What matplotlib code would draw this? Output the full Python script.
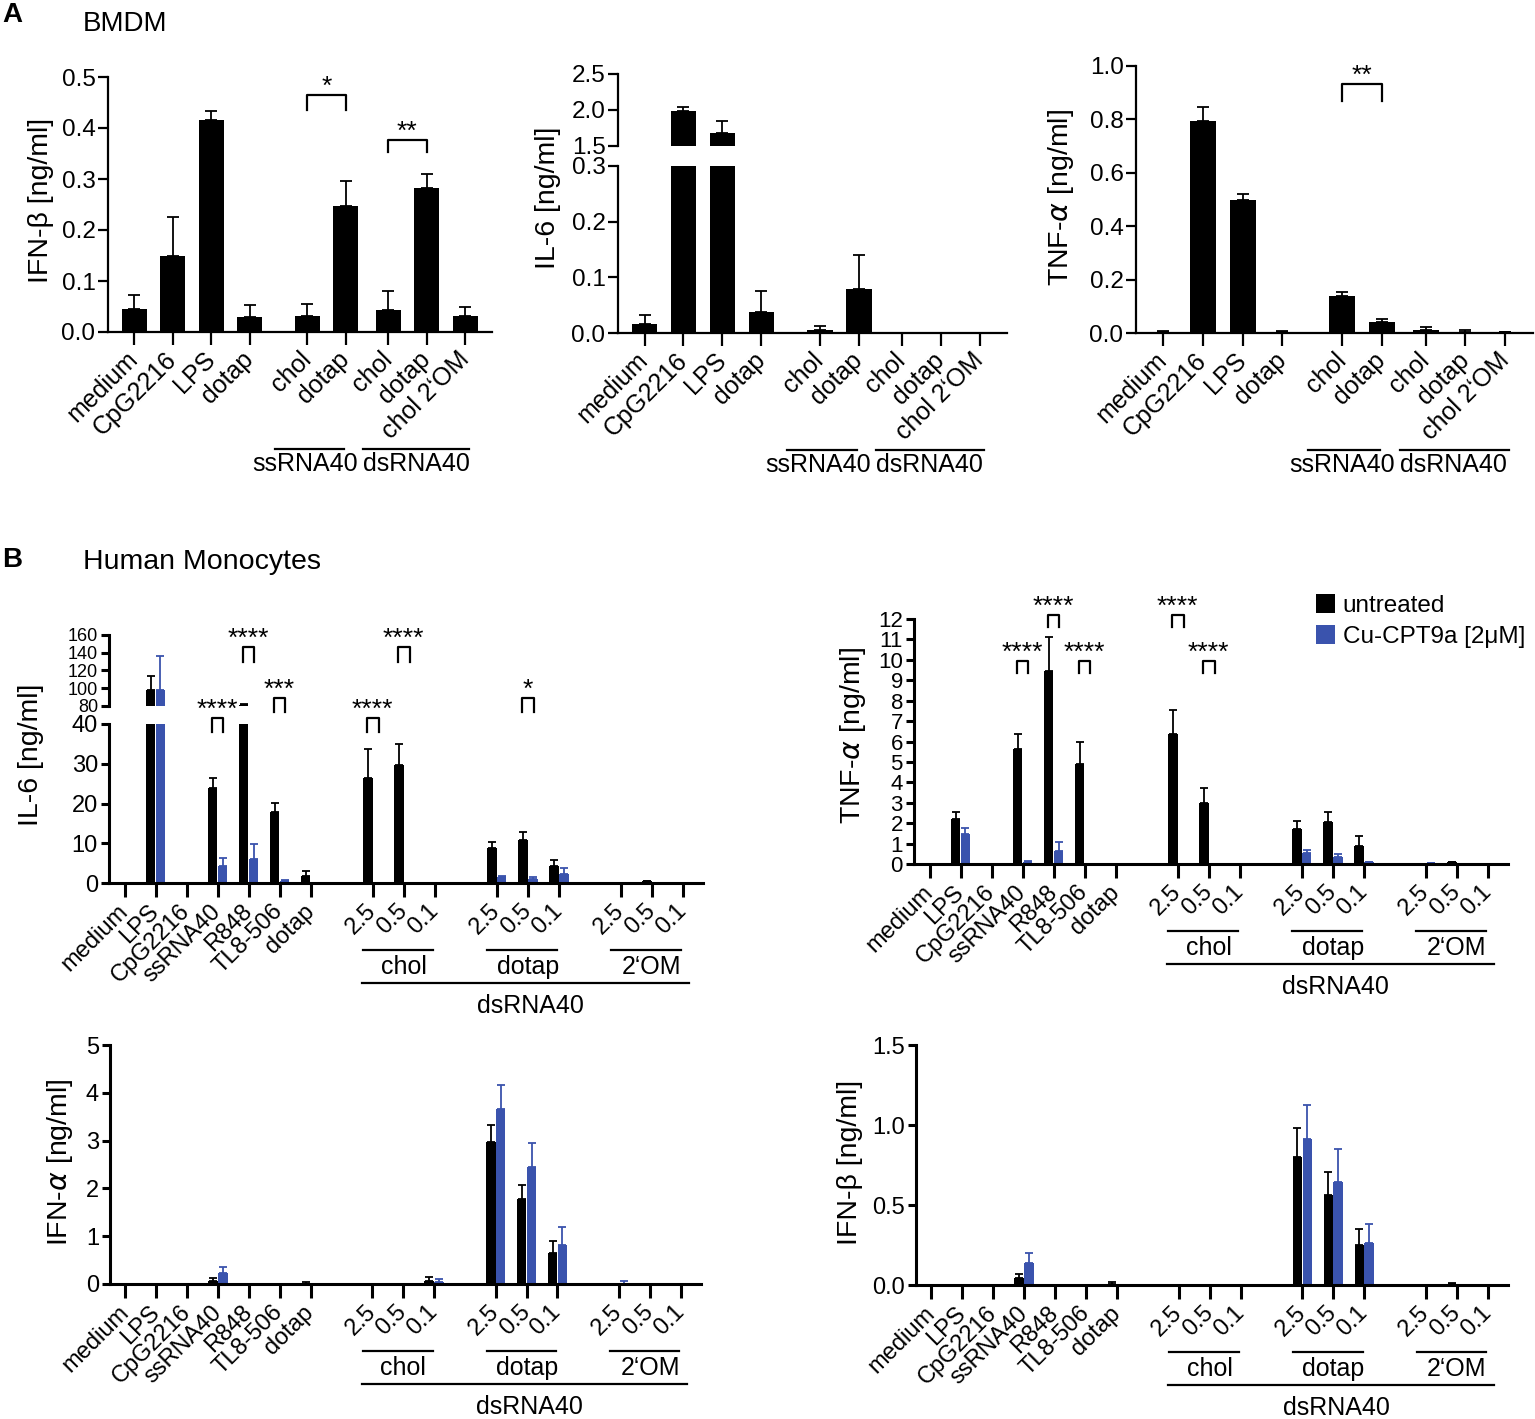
import numpy as np
import matplotlib
matplotlib.use("Agg")
import matplotlib.pyplot as plt
from matplotlib import transforms
from matplotlib.lines import Line2D

plt.rcParams["font.family"] = ["Liberation Sans", "DejaVu Sans"]

# ---------------- data ----------------
# panel A (BMDM)
a_labels = ["medium", "CpG2216", "LPS", "dotap", "chol", "dotap", "chol", "dotap", "chol 2\u2018OM"]

a_ifnb = [0.045, 0.150, 0.415, 0.030, 0.032, 0.248, 0.044, 0.283, 0.031]
a_ifnb_sd = [0.027, 0.076, 0.018, 0.022, 0.023, 0.048, 0.036, 0.026, 0.018]

a_il6 = [0.016, 1.98, 1.68, 0.038, 0.006, 0.079, 0.0, 0.0, 0.0]
a_il6_sd = [0.017, 0.06, 0.17, 0.038, 0.007, 0.061, 0.0, 0.0, 0.0]

a_tnf = [0.003, 0.795, 0.500, 0.002, 0.140, 0.040, 0.012, 0.005, 0.002]
a_tnf_sd = [0.005, 0.050, 0.020, 0.006, 0.015, 0.013, 0.010, 0.007, 0.002]

# panel B (human monocytes)
b_labels = ["medium", "LPS", "CpG2216", "ssRNA40", "R848", "TL8-506", "dotap",
            "2.5", "0.5", "0.1", "2.5", "0.5", "0.1", "2.5", "0.5", "0.1"]
b_groups = ["chol", "dotap", "2\u2018OM"]
series_names = ["untreated", "Cu-CPT9a [2\u03bcM]"]

il6_untr = [0, 97.5, 0.2, 23.9, 81.5, 17.8, 1.8, 26.4, 29.6, 0, 8.8, 10.8, 4.4, 0.1, 0.4, 0.1]
il6_untr_sd = [0, 16, 0, 2.5, 0.8, 2.4, 1.2, 7.3, 5.4, 0, 1.5, 2.0, 1.5, 0, 0.2, 0]
il6_cu = [0, 98.3, 0, 4.3, 6.1, 0.5, 0, 0.2, 0.2, 0.2, 1.5, 1.1, 2.3, 0.1, 0.1, 0.1]
il6_cu_sd = [0, 38, 0, 2.1, 3.8, 0.2, 0, 0, 0, 0, 0.3, 0.4, 1.5, 0, 0, 0]

tnf_untr = [0, 2.2, 0, 5.63, 9.45, 4.89, 0, 6.35, 3.01, 0, 1.69, 2.05, 0.9, 0, 0.08, 0]
tnf_untr_sd = [0, 0.37, 0, 0.75, 1.69, 1.09, 0, 1.21, 0.69, 0, 0.43, 0.51, 0.48, 0, 0.04, 0]
tnf_cu = [0, 1.47, 0, 0.1, 0.62, 0, 0, 0, 0, 0, 0.52, 0.36, 0.08, 0.03, 0, 0]
tnf_cu_sd = [0, 0.31, 0, 0.05, 0.44, 0, 0, 0, 0, 0, 0.16, 0.11, 0.04, 0.01, 0, 0]

ifna_untr = [0, 0, 0, 0.07, 0, 0, 0.01, 0, 0, 0.06, 2.98, 1.77, 0.64, 0, 0, 0]
ifna_untr_sd = [0, 0, 0, 0.05, 0, 0, 0.04, 0, 0, 0.08, 0.35, 0.30, 0.25, 0, 0, 0]
ifna_cu = [0, 0, 0, 0.24, 0, 0, 0, 0.01, 0, 0.05, 3.67, 2.45, 0.82, 0.01, 0.02, 0]
ifna_cu_sd = [0, 0, 0, 0.11, 0, 0, 0, 0, 0, 0.05, 0.49, 0.51, 0.37, 0.05, 0, 0]

ifnb_untr = [0, 0, 0, 0.042, 0, 0, 0.008, 0, 0, 0, 0.80, 0.565, 0.25, 0, 0.008, 0]
ifnb_untr_sd = [0, 0, 0, 0.025, 0, 0, 0.012, 0, 0, 0, 0.183, 0.143, 0.10, 0, 0.004, 0]
ifnb_cu = [0.002, 0.002, 0, 0.135, 0, 0.003, 0, 0, 0, 0.003, 0.91, 0.644, 0.26, 0.003, 0, 0.003]
ifnb_cu_sd = [0, 0, 0, 0.065, 0, 0, 0, 0, 0, 0, 0.217, 0.204, 0.12, 0, 0, 0]

# ---------------- layout ----------------
W, H = 1535, 1419
fig = plt.figure(figsize=(W / 100, H / 100), dpi=100)

BLUE = "#3a53ad"
A_TICK_FS = 17.5
B_TICK_FS = 16
B_XLAB_FS = 17
GROUP_FS = 18
LAB_FS = 20.5
STAR_FS = 19
a_pos = np.array([0, 1, 2, 3, 4.5, 5.5, 6.6, 7.6, 8.6])
b_pos = np.array([0, 1, 2, 3, 4, 5, 6, 8, 9, 10, 12, 13, 14, 16, 17, 18])


def add_ax(left, right, top, bottom):
    return fig.add_axes([left / W, 1 - bottom / H, (right - left) / W, (bottom - top) / H])


def style(ax, fs, xaxis=True, lw=1.6):
    for s in ["top", "right"]:
        ax.spines[s].set_visible(False)
    ax.spines["left"].set_linewidth(lw)
    ax.spines["bottom"].set_linewidth(lw)
    ax.tick_params(axis="both", labelsize=fs, width=lw, length=7, pad=2)
    if not xaxis:
        ax.spines["bottom"].set_visible(False)
        ax.tick_params(axis="x", bottom=False, labelbottom=False)


def add_err(ax, x, y, sd, color, capsize):
    x, y, sd = np.asarray(x, float), np.asarray(y, float), np.asarray(sd, float)
    m = sd > 0
    ax.errorbar(x[m], y[m], yerr=[np.zeros(m.sum()), sd[m]], fmt="none", ecolor=color,
                elinewidth=1.3, capsize=capsize, capthick=1.3, zorder=1)


def ylabel(text, x_px, y_px):
    fig.text(x_px / W, 1 - y_px / H, text, rotation=90, ha="right", va="center", fontsize=LAB_FS)


def below(ax, off_px):
    t = transforms.blended_transform_factory(ax.transData, ax.transAxes)
    return transforms.offset_copy(t, fig=fig, x=0, y=-off_px, units="dots")


def hline(ax, x0, x1, off_px):
    ax.add_line(Line2D([x0, x1], [0, 0], transform=below(ax, off_px), color="black",
                       lw=1.6, clip_on=False))


def bracket(ax, x0, x1, top, leg, label):
    ax.plot([x0, x0, x1, x1], [top - leg, top, top, top - leg], color="black", lw=1.6,
            clip_on=False)
    ax.annotate(label, xy=((x0 + x1) / 2, top), xytext=(0, 6), textcoords="offset points",
                ha="center", va="center", fontsize=STAR_FS, annotation_clip=False)


# ---------------- panel A ----------------
def draw_a(ax, vals, sds):
    ax.bar(a_pos, vals, width=0.65, color="black", zorder=2)
    add_err(ax, a_pos, vals, sds, "black", 4.3)
    ax.set_xlim(-0.68, 9.3)


def a_xaxis(ax):
    ax.set_xticks(a_pos)
    ax.set_xticklabels(a_labels, rotation=45, ha="right", va="center",
                       rotation_mode="anchor", fontsize=A_TICK_FS + 0.5)
    ax.tick_params(axis="x", length=9, pad=8)
    hline(ax, 3.65, 5.45, 117)
    hline(ax, 5.95, 8.7, 117)
    ax.text(5.82, 0, "ssRNA40", transform=below(ax, 132), ha="right", va="center", fontsize=GROUP_FS)
    ax.text(5.95, 0, "dsRNA40", transform=below(ax, 132), ha="left", va="center", fontsize=GROUP_FS)


fig.text(2 / W, 1 - 15 / H, "A", fontsize=20, fontweight="bold", va="center")
fig.text(83 / W, 1 - 24 / H, "BMDM", fontsize=20, va="center")

ax = add_ax(108, 492, 77, 332)
style(ax, A_TICK_FS)
draw_a(ax, a_ifnb, a_ifnb_sd)
ax.set_ylim(0, 0.5)
ax.set_yticks(np.arange(0, 0.51, 0.1))
ax.yaxis.set_major_formatter(matplotlib.ticker.FormatStrFormatter("%.1f"))
a_xaxis(ax)
bracket(ax, 4.5, 5.5, 0.465, 0.03, "*")
bracket(ax, 6.6, 7.6, 0.376, 0.024, "**")
ylabel("IFN-\u03b2 [ng/ml]", 54, 200)

ax_up = add_ax(618, 1007, 74, 146)
style(ax_up, A_TICK_FS, xaxis=False)
draw_a(ax_up, a_il6, a_il6_sd)
ax_up.set_ylim(1.5, 2.5)
ax_up.set_yticks([1.5, 2.0, 2.5])
ax_up.yaxis.set_major_formatter(matplotlib.ticker.FormatStrFormatter("%.1f"))
ax = add_ax(618, 1007, 166, 333)
style(ax, A_TICK_FS)
draw_a(ax, a_il6, a_il6_sd)
ax.set_ylim(0, 0.3)
ax.set_yticks([0, 0.1, 0.2, 0.3])
ax.yaxis.set_major_formatter(matplotlib.ticker.FormatStrFormatter("%.1f"))
a_xaxis(ax)
ylabel("IL-6 [ng/ml]", 561, 198)

ax = add_ax(1136, 1533, 66, 333)
style(ax, A_TICK_FS)
draw_a(ax, a_tnf, a_tnf_sd)
ax.set_ylim(0, 1.0)
ax.set_yticks(np.arange(0, 1.01, 0.2))
ax.yaxis.set_major_formatter(matplotlib.ticker.FormatStrFormatter("%.1f"))
a_xaxis(ax)
bracket(ax, 4.5, 5.5, 0.933, 0.065, "**")
ylabel("TNF-$\\alpha$ [ng/ml]", 1076, 197)


# ---------------- panel B ----------------
def draw_b(ax, untr, untr_sd, cu, cu_sd):
    b1 = ax.bar(b_pos - 0.16, untr, width=0.31, color="black", zorder=2)
    b2 = ax.bar(b_pos + 0.16, cu, width=0.31, color=BLUE, zorder=2)
    add_err(ax, b_pos - 0.16, untr, untr_sd, "black", 2.6)
    add_err(ax, b_pos + 0.16, cu, cu_sd, BLUE, 2.6)
    ax.set_xlim(-0.5, 18.65)
    return b1, b2


def b_xaxis(ax):
    ax.set_xticks(b_pos)
    ax.set_xticklabels(b_labels, rotation=45, ha="right", va="center",
                       rotation_mode="anchor", fontsize=B_XLAB_FS)
    ax.tick_params(axis="x", length=10, width=2.2, pad=8)
    for i, g in enumerate(b_groups):
        p = b_pos[7 + 3 * i: 10 + 3 * i]
        hline(ax, p[0] - 0.3, p[2] - 0.05, 67)
        ax.text(p[1], 0, g, transform=below(ax, 84), ha="center", va="center", fontsize=GROUP_FS)
    hline(ax, 7.65, 18.2, 100)
    ax.text(13.1, 0, "dsRNA40", transform=below(ax, 123), ha="center", va="center",
            fontsize=GROUP_FS)


fig.text(2 / W, 1 - 560 / H, "B", fontsize=20, fontweight="bold", va="center")
fig.text(83 / W, 1 - 562 / H, "Human Monocytes", fontsize=20.5, va="center")

# IL-6 (broken axis)
ax_up = add_ax(109, 703, 635, 706)
style(ax_up, 13, xaxis=False, lw=2.2)
draw_b(ax_up, il6_untr, il6_untr_sd, il6_cu, il6_cu_sd)
ax_up.set_ylim(80, 160)
ax_up.set_yticks([80, 100, 120, 140, 160])
ax_up.tick_params(axis="y", length=6)
ax = add_ax(109, 703, 724, 883)
style(ax, B_TICK_FS + 1, lw=2.2)
draw_b(ax, il6_untr, il6_untr_sd, il6_cu, il6_cu_sd)
ax.set_ylim(0, 40)
ax.set_yticks([0, 10, 20, 30, 40])
ax.tick_params(axis="y", length=6)
b_xaxis(ax)
for p, top, lab in [(3, 41.5, "****"), (4, 59.3, "****"), (5, 46.5, "***"),
                    (8, 41.5, "****"), (9, 59.3, "****"), (13, 46.5, "*")]:
    bracket(ax, p - 0.19, p + 0.19, top, 3.6, lab)
ylabel("IL-6 [ng/ml]", 44, 755)

# TNF-a
ax = add_ax(914, 1508, 619, 864)
style(ax, B_TICK_FS, lw=2.2)
h1, h2 = draw_b(ax, tnf_untr, tnf_untr_sd, tnf_cu, tnf_cu_sd)
ax.set_ylim(0, 12)
ax.set_yticks(np.arange(0, 13, 1))
ax.tick_params(axis="y", length=6)
b_xaxis(ax)
for p, top in [(3, 9.95), (4, 12.2), (5, 9.95), (8, 12.2), (9, 9.95)]:
    bracket(ax, p - 0.19, p + 0.19, top, 0.6, "****")
ylabel("TNF-$\\alpha$ [ng/ml]", 868, 735)
ax.legend([h1, h2], series_names, loc="upper left", bbox_to_anchor=(1316 / W, 1 - 594 / H),
          bbox_transform=fig.transFigure, frameon=False, fontsize=17.5, handlelength=0.8,
          handleheight=0.8, handletextpad=0.3, labelspacing=0.35, borderpad=0,
          borderaxespad=0)

# IFN-a
ax = add_ax(110, 701, 1045, 1284)
style(ax, B_TICK_FS + 1, lw=2.2)
draw_b(ax, ifna_untr, ifna_untr_sd, ifna_cu, ifna_cu_sd)
ax.set_ylim(0, 5)
ax.set_yticks(np.arange(0, 6, 1))
ax.tick_params(axis="y", length=6)
b_xaxis(ax)
ylabel("IFN-$\\alpha$ [ng/ml]", 75, 1162)

# IFN-b
ax = add_ax(916, 1508, 1045, 1285)
style(ax, B_TICK_FS + 1, lw=2.2)
draw_b(ax, ifnb_untr, ifnb_untr_sd, ifnb_cu, ifnb_cu_sd)
ax.set_ylim(0, 1.5)
ax.set_yticks([0, 0.5, 1.0, 1.5])
ax.yaxis.set_major_formatter(matplotlib.ticker.FormatStrFormatter("%.1f"))
ax.tick_params(axis="y", length=6)
b_xaxis(ax)
ylabel("IFN-\u03b2 [ng/ml]", 863, 1162)

fig.savefig("out.png", dpi=100)
